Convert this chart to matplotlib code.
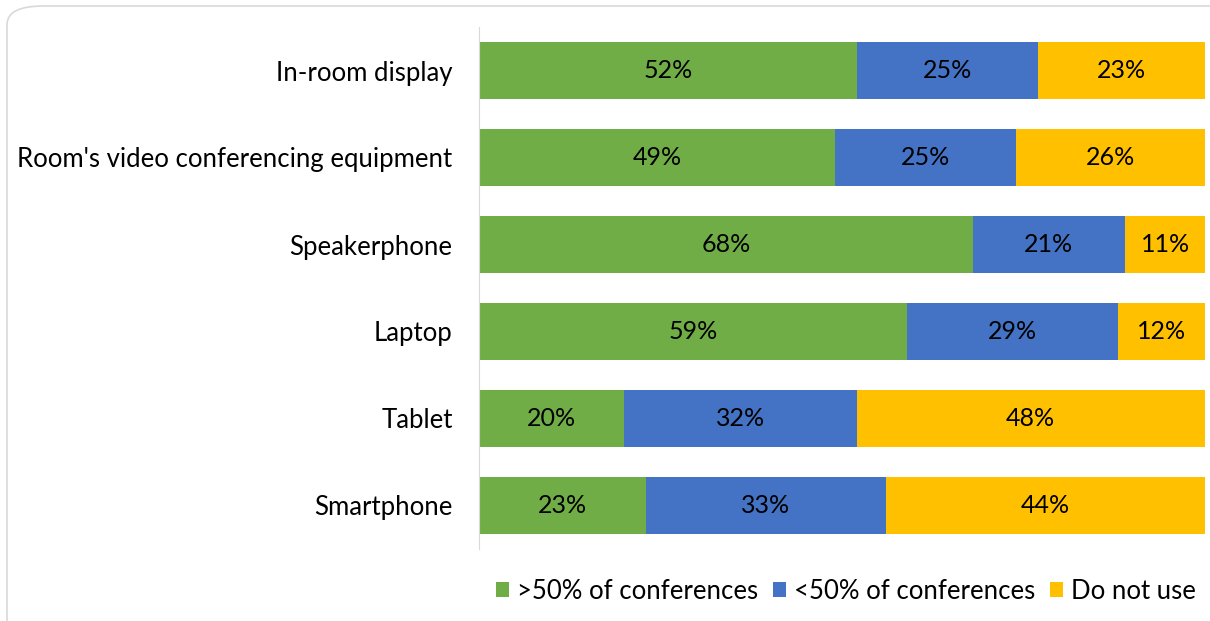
import matplotlib.pyplot as plt
from matplotlib.patches import FancyBboxPatch
import numpy as np

categories = ["In-room display", "Room's video conferencing equipment", "Speakerphone",
              "Laptop", "Tablet", "Smartphone"]
over_50 = [52, 49, 68, 59, 20, 23]
under_50 = [25, 25, 21, 29, 32, 33]
not_used = [23, 26, 11, 12, 48, 44]
series_names = [">50% of conferences", "<50% of conferences", "Do not use"]
colors = ["#70AD47", "#4472C4", "#FFC000"]

plt.rcParams['font.family'] = ['Lato', 'DejaVu Sans']

fig = plt.figure(figsize=(12.1, 6.21), dpi=100)
fig.patches.append(FancyBboxPatch((7 / 1210, -0.05), 1.1, 1.05 - 6 / 621,
                                  boxstyle="round,pad=0,rounding_size=0.03",
                                  transform=fig.transFigure, facecolor='white',
                                  edgecolor='#D9D9D9', linewidth=1.2, zorder=-1))

ax = fig.add_axes([479 / 1210, 1 - 549 / 621, 726 / 1210, 522 / 621])
ax.set_facecolor('none')

y = np.arange(len(categories))
left = np.zeros(len(categories))
for name, vals, c in zip(series_names, [over_50, under_50, not_used], colors):
    vals = np.array(vals)
    bars = ax.barh(y, vals, left=left, height=0.665, color=c, label=name)
    for yi, l, v in zip(y, left, vals):
        ax.text(l + v / 2, yi, f"{v}%", ha='center', va='center', fontsize=18, color='black')
    left = left + vals

ax.set_xlim(0, 100)
ax.set_ylim(5.5, -0.5)
ax.set_yticks(y)
ax.set_yticklabels(categories, fontsize=18.5)
ax.tick_params(axis='y', length=0, pad=19)
ax.set_xticks([])
for s in ['top', 'right', 'bottom']:
    ax.spines[s].set_visible(False)
ax.spines['left'].set_color('#D9D9D9')

fig.legend(loc='lower right', bbox_to_anchor=(1219 / 1210, -6 / 621), ncol=3, frameon=False,
           fontsize=18.5, handlelength=0.5, handleheight=0.5, handletextpad=0.3, columnspacing=0.6)

fig.savefig('out.png', dpi=100)
